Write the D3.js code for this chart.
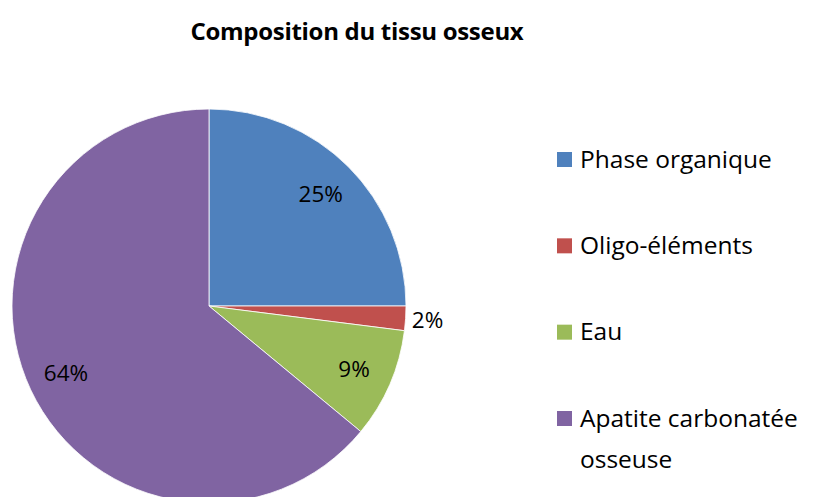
<!DOCTYPE html>
<html>
<head>
<meta charset="utf-8">
<script src="https://cdn.jsdelivr.net/npm/d3@7"></script>
<style>
  body { margin: 0; background: #fff; }
  svg { display: block; font-family: "Open Sans", sans-serif; font-variant-ligatures: none; }
</style>
</head>
<body>
<div class="container"></div>
<script>
const categories = ["Phase organique", "Oligo-éléments", "Eau", "Apatite carbonatée osseuse"];
const values = [25, 2, 9, 64];
const colors = ["#4F81BD", "#C0504D", "#9BBB59", "#8064A2"];
const legendLines = [["Phase organique"], ["Oligo-éléments"], ["Eau"], ["Apatite carbonatée", "osseuse"]];

const w = 813;
const h = 497;
const cx = 209, cy = 306, radius = 197;

const data = categories.map((c, i) => ({ name: c, value: values[i], color: colors[i], lines: legendLines[i] }));

const svg = d3.select(".container")
  .append("svg")
  .attr("width", w)
  .attr("height", h);

svg.append("text")
  .attr("x", 357)
  .attr("y", 40)
  .attr("text-anchor", "middle")
  .attr("font-weight", "bold")
  .attr("font-size", 24)
  .attr("letter-spacing", -0.3)
  .text("Composition du tissu osseux");

const pie = d3.pie().sort(null).value(d => d.value);
const arc = d3.arc().innerRadius(0).outerRadius(radius);
const labelArc = d3.arc().innerRadius(158).outerRadius(158);
const outerLabelArc = d3.arc().innerRadius(219).outerRadius(219);

const g = svg.append("g").attr("transform", "translate(" + cx + "," + cy + ")");
const arcs = pie(data);

g.selectAll("path")
  .data(arcs)
  .enter()
  .append("path")
  .attr("d", arc)
  .attr("fill", d => d.data.color)
  .attr("stroke", "#fff")
  .attr("stroke-width", 0.8);

g.selectAll("text.lbl")
  .data(arcs)
  .enter()
  .append("text")
  .attr("class", "lbl")
  .attr("transform", d => "translate(" + (d.data.value < 5 ? outerLabelArc : labelArc).centroid(d) + ")")
  .attr("text-anchor", "middle")
  .attr("dy", "0.35em")
  .attr("font-size", 22.5)
  .text(d => d.data.value + "%");

// legend
const legend = svg.append("g").attr("transform", "translate(557,0)");
const rowY = d3.scalePoint().domain(categories).range([159, 418]);

const item = legend.selectAll("g")
  .data(data)
  .enter()
  .append("g")
  .attr("transform", d => "translate(0," + rowY(d.name) + ")");

item.append("rect")
  .attr("x", 0)
  .attr("y", -7)
  .attr("width", 15)
  .attr("height", 15)
  .attr("fill", d => d.color);

item.append("text")
  .attr("x", 23)
  .attr("font-size", 24.5)
  .selectAll("tspan")
  .data(d => d.lines)
  .enter()
  .append("tspan")
  .attr("x", 23)
  .attr("y", (d, i) => i * 41)
  .attr("dy", "0.35em")
  .text(d => d);
</script>
</body>
</html>
